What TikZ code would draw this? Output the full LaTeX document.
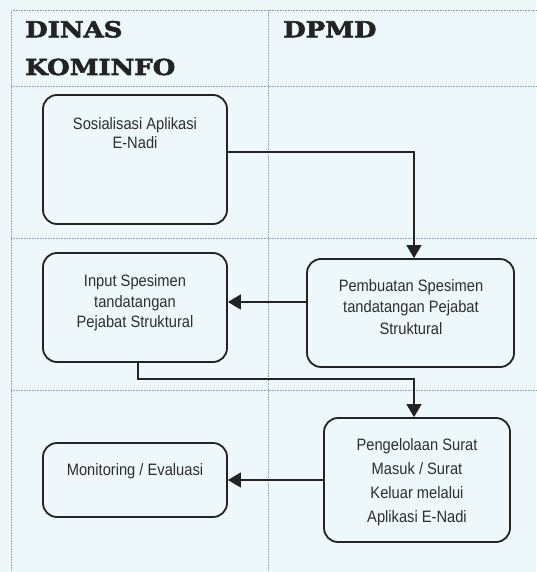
\documentclass[tikz,border=0pt]{standalone}
\usepackage{fontspec}
\usetikzlibrary{arrows.meta}
\newfontfamily\hdrfont[FakeStretch=1.18,FakeBold=2.6]{DejaVu Serif}
\newfontfamily\bodyfont[FakeStretch=0.89]{Liberation Sans}
\definecolor{paper}{RGB}{238,248,251}
\definecolor{gridc}{RGB}{140,160,185}
\definecolor{ink}{RGB}{35,35,35}
\definecolor{txt}{RGB}{45,45,50}
\begin{document}
\begin{tikzpicture}[x=1pt,y=-1pt,
  grid/.style={gridc,densely dotted,line width=0.6pt},
  box/.style={draw=ink,line width=1.8pt,rounded corners=14pt,inner sep=0pt},
  lbl/.style={txt,align=center,inner sep=0pt,anchor=base},
  hdr/.style={ink,inner sep=0pt,anchor=base west,font=\hdrfont\bfseries\fontsize{22}{24}\selectfont},
  arr/.style={ink,line width=1.7pt,-{Triangle[length=13pt,width=15pt]}}]
\useasboundingbox (0,0) rectangle (536,572);
\fill[paper] (0,0) rectangle (536,572);

% swimlane grid
\draw[grid] (11,10) -- (11,572);
\draw[grid] (268,10) -- (268,572);
\draw[grid] (11,10) -- (536,10);
\draw[grid] (11,86) -- (536,86);
\draw[grid] (11,238) -- (536,238);
\draw[grid] (11,390) -- (536,390);

% lane headers
\node[hdr] (h1) at (25,37.3) {DINAS};
\node[hdr] (h2) at (25,75) {KOMINFO};
\node[hdr] (h3) at (283,37.3) {DPMD};

% activity boxes
\node[box,minimum width=184pt,minimum height=129pt] (sos) at (135,159.5) {};
\node[box,minimum width=184pt,minimum height=109pt] (inp) at (135,307.5) {};
\node[box,minimum width=207pt,minimum height=108pt] (pem) at (410.5,313) {};
\node[box,minimum width=186pt,minimum height=124pt] (pen) at (417,480) {};
\node[box,minimum width=184pt,minimum height=74pt] (mon) at (135,480) {};

% box texts (anchored on the baseline of their last line)
\node[lbl,font=\bodyfont\fontsize{16.5}{19}\selectfont] (tsos) at (135,148.3)
  {Sosialisasi Aplikasi\\E-Nadi};
\node[lbl,font=\bodyfont\fontsize{16.5}{20.3}\selectfont] (tinp) at (135,327.3)
  {Input Spesimen\\tandatangan\\Pejabat Struktural};
\node[lbl,font=\bodyfont\fontsize{16.5}{21.2}\selectfont] (tpem) at (411,334)
  {Pembuatan Spesimen\\tandatangan Pejabat\\Struktural};
\node[lbl,font=\bodyfont\fontsize{16.5}{24}\selectfont] (tpen) at (417,522.7)
  {Pengelolaan Surat\\Masuk / Surat\\Keluar melalui\\Aplikasi E-Nadi};
\node[lbl,font=\bodyfont\fontsize{16.5}{20}\selectfont] (tmon) at (135,475)
  {Monitoring / Evaluasi};

% flow
\draw[arr] ([yshift=7.5pt]sos.east) -| ([xshift=3.5pt]pem.north);
\draw[arr] ([yshift=11pt]pem.west) -- ([yshift=11pt]pem.west -| inp.east);
\draw[arr] ([xshift=3pt]inp.south) -- ++(0,16) -| ([xshift=-3pt]pen.north);
\draw[arr] (pen.west) -- (mon.east);
\end{tikzpicture}
\end{document}
